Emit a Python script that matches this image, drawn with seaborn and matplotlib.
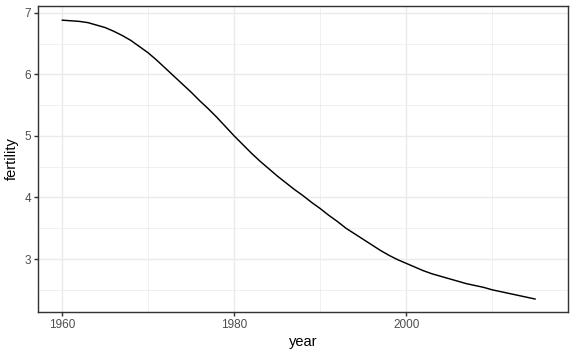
import matplotlib
matplotlib.use("Agg")
import matplotlib.pyplot as plt
import seaborn as sns
import pandas as pd
import numpy as np

years = list(range(1960, 2016))
fertility = [6.88, 6.87, 6.86, 6.84, 6.80, 6.76, 6.70, 6.63, 6.55, 6.45,
             6.35, 6.23, 6.10, 5.97, 5.84, 5.71, 5.57, 5.44, 5.30, 5.15,
             5.00, 4.86, 4.72, 4.59, 4.47, 4.35, 4.24, 4.13, 4.03, 3.92,
             3.82, 3.71, 3.61, 3.50, 3.41, 3.32, 3.23, 3.14, 3.06, 2.99,
             2.93, 2.87, 2.81, 2.76, 2.72, 2.68, 2.64, 2.60, 2.57, 2.54,
             2.50, 2.47, 2.44, 2.41, 2.38, 2.35]
x_ticks = [1960, 1980, 2000]
x_minor = [1970, 1990, 2010]
y_ticks = [3, 4, 5, 6, 7]
y_minor = [2.5, 3.5, 4.5, 5.5, 6.5]

df = pd.DataFrame({"year": years, "fertility": fertility})

sns.set_style("white")
plt.rcParams['font.family'] = ['Liberation Sans', 'DejaVu Sans']

fig = plt.figure(figsize=(5.76, 3.55), dpi=100)
ax = fig.add_axes([38/576, 1 - 312/355, (568-38)/576, (312-6)/355])

sns.lineplot(data=df, x="year", y="fertility", ax=ax, color="black", linewidth=1.05)

ax.set_xlim(1957.2, 2018.8)
ax.set_ylim(2.14, 7.11)
ax.set_xticks(x_ticks)
ax.set_xticks(x_minor, minor=True)
ax.set_yticks(y_ticks)
ax.set_yticks(y_minor, minor=True)
ax.set_xticklabels([str(t) for t in x_ticks])
ax.set_yticklabels([str(t) for t in y_ticks])

ax.grid(which="major", color="#EBEBEB", linewidth=1.02)
ax.grid(which="minor", color="#EBEBEB", linewidth=0.51)
ax.set_axisbelow(True)

for s in ax.spines.values():
    s.set_visible(True)
    s.set_color("#333333")
    s.set_linewidth(1.02)

ax.tick_params(which="major", length=2.64, width=1.02, color="#333333",
               labelsize=8.45, labelcolor="#4D4D4D", pad=2.2,
               bottom=True, left=True)
ax.tick_params(which="minor", length=0, bottom=False, left=False)

ax.set_xlabel("year", fontsize=10.56, color="black", labelpad=3)
ax.set_ylabel("fertility", fontsize=10.56, color="black", labelpad=4)

fig.savefig("out.png", dpi=100)
